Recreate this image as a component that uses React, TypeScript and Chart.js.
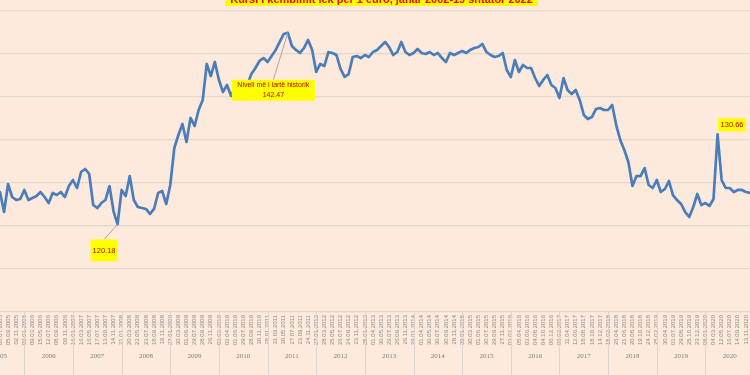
import React, { useEffect, useRef } from "react";
import { Chart, registerables } from "chart.js";

Chart.register(...registerables);

const TITLE = "Kursi i këmbimit lek për 1 euro, janar 2002-19 shtator 2022";
const PEAK_NOTE = "Niveli më i lartë historik";

// Monthly exchange rate (lek per 1 euro), 2005 starts in July
const rate2005 = [123.95, 121.63, 124.88, 123.37, 123.02, 123.14];
const rate2006 = [124.19, 123.02, 123.26, 123.49, 123.95, 123.37, 122.67, 123.84, 123.6, 123.95, 123.37, 124.65];
const rate2007 = [125.35, 124.42, 126.28, 126.63, 126.05, 122.44, 122.09, 122.67, 123.02, 124.65, 121.74, 120.18];
const rate2008 = [124.19, 123.49, 125.81, 123.02, 122.21, 122.09, 121.98, 121.4, 121.98, 123.84, 124.07, 122.56];
const rate2009 = [124.77, 129.07, 130.58, 131.86, 129.77, 132.56, 131.63, 133.49, 134.65, 138.84, 137.44, 139.07];
const rate2010 = [136.98, 135.58, 136.4, 135.12, 136.05, 135.35, 134.77, 136.4, 137.67, 138.37, 139.19, 139.53];
const rate2011 = [139.07, 139.77, 140.47, 141.4, 142.33, 142.47, 140.93, 140.47, 140.12, 140.7, 141.63, 140.47];
const rate2012 = [137.91, 138.84, 138.6, 140.23, 140.12, 139.88, 138.26, 137.33, 137.67, 139.65, 139.77, 139.53];
const rate2013 = [139.88, 139.65, 140.23, 140.47, 140.93, 141.4, 140.81, 139.88, 140.23, 141.4, 140.23, 139.88];
const rate2014 = [140.12, 140.58, 140.12, 140.0, 140.23, 139.88, 140.12, 139.53, 139.07, 140.12, 139.88, 140.12];
const rate2015 = [140.35, 140.12, 140.47, 140.7, 140.81, 141.16, 140.23, 139.88, 139.65, 139.77, 140.12, 138.14];
const rate2016 = [137.33, 139.3, 137.91, 138.72, 138.37, 138.37, 137.21, 136.28, 136.98, 137.56, 136.4, 136.05];
const rate2017 = [134.88, 137.21, 135.81, 135.35, 135.81, 134.65, 132.91, 132.44, 132.67, 133.6, 133.72, 133.49];
const rate2018 = [133.49, 134.07, 131.74, 130.0, 128.84, 127.44, 124.65, 125.81, 125.81, 126.74, 124.77, 124.42];
const rate2019 = [125.35, 123.95, 124.3, 125.23, 123.6, 123.02, 122.56, 121.63, 121.05, 122.21, 123.72, 122.44];
const rate2020 = [122.67, 122.33, 123.14, 130.66, 125.35, 124.42, 124.42, 123.95, 124.19, 124.19, 123.95, 123.84];

// Date tick labels (every second month)
const ticks2005 = ["06.07.2005", "05.09.2005", "02.11.2005"];
const ticks2006 = ["09.01.2006", "09.03.2006", "15.05.2006", "12.07.2006", "08.09.2006", "09.11.2006"];
const ticks2007 = ["16.01.2007", "16.03.2007", "16.05.2007", "17.07.2007", "13.09.2007", "14.11.2007"];
const ticks2008 = ["21.01.2008", "20.03.2008", "23.05.2008", "23.07.2008", "18.09.2008", "19.11.2008"];
const ticks2009 = ["27.01.2009", "30.03.2009", "01.06.2009", "29.07.2009", "28.09.2009", "26.11.2009"];
const ticks2010 = ["03.02.2010", "02.04.2010", "01.06.2010", "29.07.2010", "28.09.2010", "30.11.2010"];
const ticks2011 = ["28.01.2011", "31.03.2011", "30.05.2011", "27.07.2011", "23.09.2011", "24.11.2011"];
const ticks2012 = ["27.01.2012", "28.03.2012", "25.05.2012", "26.07.2012", "24.09.2012", "23.11.2012"];
const ticks2013 = ["25.01.2013", "01.04.2013", "30.05.2013", "29.07.2013", "26.09.2013", "26.11.2013"];
const ticks2014 = ["29.01.2014", "01.04.2014", "30.05.2014", "30.07.2014", "30.09.2014", "28.11.2014"];
const ticks2015 = ["30.01.2015", "30.03.2015", "01.06.2015", "30.07.2015", "29.09.2015", "27.11.2015"];
const ticks2016 = ["03.02.2016", "05.04.2016", "03.06.2016", "04.08.2016", "04.10.2016", "06.12.2016"];
const ticks2017 = ["09.02.2017", "11.04.2017", "12.06.2017", "18.08.2017", "18.10.2017", "14.12.2017"];
const ticks2018 = ["15.02.2018", "26.04.2018", "21.06.2018", "20.08.2018", "19.10.2018", "24.12.2018"];
const ticks2019 = ["25.02.2019", "30.04.2019", "01.07.2019", "29.08.2019", "25.10.2019", "23.12.2019"];
const ticks2020 = ["08.01.2020", "04.03.2020", "12.05.2020", "16.07.2020", "14.09.2020", "13.11.2020"];

const years = [2005, 2006, 2007, 2008, 2009, 2010, 2011, 2012, 2013, 2014, 2015, 2016, 2017, 2018, 2019, 2020];
const ratesByYear = [rate2005, rate2006, rate2007, rate2008, rate2009, rate2010, rate2011, rate2012, rate2013, rate2014, rate2015, rate2016, rate2017, rate2018, rate2019, rate2020];
const ticksByYear = [ticks2005, ticks2006, ticks2007, ticks2008, ticks2009, ticks2010, ticks2011, ticks2012, ticks2013, ticks2014, ticks2015, ticks2016, ticks2017, ticks2018, ticks2019, ticks2020];

const Y_MIN = 110;
const Y_MAX = 145;
const Y_STEP = 5;

const BG = "#FDEADD";
const GRID = "#E2D8D0";
const LINE = "#4A7EBB";
const SEP = "#DDD4CD";

const rates: number[] = ratesByYear.flat();
const tickLabels: string[] = ticksByYear.flat();
const categories: string[] = [];
years.forEach((yr, k) => {
  const startMonth = 13 - ratesByYear[k].length;
  ratesByYear[k].forEach((_, j) => {
    categories.push(String(startMonth + j).padStart(2, "0") + "." + yr);
  });
});
const firstMonthOffset = 12 - rate2005.length; // months of 2005 before the first point

const minIdx = rates.indexOf(Math.min(...rates));
const maxIdx = rates.indexOf(Math.max(...rates));
const start2020 = rates.length - rate2020.length;
const spike2020Idx = start2020 + rate2020.indexOf(Math.max(...rate2020));

const annotations = [
  { index: minIdx, lines: [rates[minIdx].toFixed(2)], dx: -13.5, dy: 26, w: 27, h: 22, leader: true, size: 7.5 },
  { index: maxIdx, lines: [PEAK_NOTE, rates[maxIdx].toFixed(2)], dx: -14.5, dy: 57.5, w: 83, h: 21, leader: true, size: 7 },
  { index: spike2020Idx, lines: [rates[spike2020Idx].toFixed(2)], dx: 14.5, dy: -9.5, w: 28, h: 13, leader: false, size: 7.5 },
];

const bgPlugin = {
  id: "bgFill",
  beforeDraw(chart: any) {
    const ctx = chart.ctx;
    ctx.save();
    ctx.fillStyle = BG;
    ctx.fillRect(0, 0, chart.width, chart.height);
    ctx.restore();
  },
};

const yearAxisPlugin = {
  id: "yearAxis",
  afterDraw(chart: any) {
    const ctx = chart.ctx;
    const x = chart.scales.x;
    const top = chart.chartArea.bottom;
    ctx.save();
    years.forEach((yr, k) => {
      const janIdx = k * 12 - firstMonthOffset;
      const left = x.getPixelForValue(janIdx);
      const right = x.getPixelForValue(janIdx + 12);
      ctx.strokeStyle = SEP;
      ctx.lineWidth = 1;
      ctx.beginPath();
      ctx.moveTo(Math.round(left) + 0.5, top);
      ctx.lineTo(Math.round(left) + 0.5, chart.height);
      ctx.stroke();
      ctx.fillStyle = "#7F7F7F";
      ctx.font = '7px "Liberation Serif"';
      ctx.textAlign = "center";
      ctx.textBaseline = "middle";
      ctx.fillText(String(yr), (left + right) / 2, 356);
    });
    ctx.restore();
  },
};

const titlePlugin = {
  id: "cutTitle",
  afterDraw(chart: any) {
    const ctx = chart.ctx;
    ctx.save();
    ctx.font = 'bold 10px "Liberation Sans"';
    const w10 = ctx.measureText(TITLE).width;
    const size = (10 * 303) / w10;
    ctx.font = `bold ${size}px "Liberation Sans"`;
    const cx = 381.5;
    ctx.fillStyle = "#FFFF00";
    ctx.fillRect(225, -20, 313, 26);
    ctx.fillStyle = "#FF0000";
    ctx.textAlign = "center";
    ctx.textBaseline = "alphabetic";
    ctx.fillText(TITLE, cx, 3);
    ctx.restore();
  },
};

const notePlugin = {
  id: "notes",
  afterDatasetsDraw(chart: any) {
    const ctx = chart.ctx;
    const xs = chart.scales.x;
    const ys = chart.scales.y;
    ctx.save();
    annotations.forEach((a) => {
      const px = xs.getPixelForValue(a.index);
      const py = ys.getPixelForValue(rates[a.index]);
      const cx = px + a.dx;
      const cy = py + a.dy;
      const bx = cx - a.w / 2;
      const by = cy - a.h / 2;
      if (a.leader) {
        ctx.strokeStyle = "#A8A8A8";
        ctx.lineWidth = 1;
        ctx.beginPath();
        ctx.moveTo(cx, by);
        ctx.lineTo(px, py);
        ctx.stroke();
      }
      ctx.fillStyle = "#FFFF00";
      ctx.fillRect(bx, by, a.w, a.h);
      ctx.fillStyle = "#C00000";
      ctx.font = `${a.size}px "Liberation Sans"`;
      ctx.textAlign = "center";
      ctx.textBaseline = "middle";
      const lh = 10;
      const n = a.lines.length;
      a.lines.forEach((t, j) => {
        ctx.fillText(t, cx, cy + (j - (n - 1) / 2) * lh);
      });
    });
    ctx.restore();
  },
};

export default function App() {
  const ref = useRef<HTMLCanvasElement>(null);
  useEffect(() => {
    document.body.style.margin = "0";
    const chart = new Chart(ref.current as HTMLCanvasElement, {
      type: "line",
      data: {
        labels: categories,
        datasets: [
          {
            data: rates,
            borderColor: LINE,
            borderWidth: 2.7,
            pointRadius: 0,
            tension: 0,
            fill: false,
            borderJoinStyle: "round",
            borderCapStyle: "round",
          },
        ],
      },
      options: {
        responsive: false,
        animation: false,
        devicePixelRatio: 1,
        layout: { padding: { top: 11, left: 0, right: 0, bottom: 0 } },
        plugins: { legend: { display: false }, tooltip: { enabled: false }, title: { display: false } },
        scales: {
          x: {
            type: "category",
            offset: false,
            grid: { display: false, drawTicks: false },
            border: { display: false },
            ticks: {
              autoSkip: false,
              minRotation: 90,
              maxRotation: 90,
              padding: 3,
              color: "#8A8A8A",
              font: { size: 6, family: "Liberation Sans" },
              callback: (_v: any, i: number) => (i % 2 === 0 ? tickLabels[i / 2] ?? "" : ""),
            },
            afterFit: (s: any) => {
              s.height = 63;
              s.paddingLeft = 0;
              s.paddingRight = 0;
            },
          },
          y: {
            min: Y_MIN,
            max: Y_MAX,
            ticks: { display: false, stepSize: Y_STEP },
            grid: { color: GRID, lineWidth: 1.3, drawTicks: false },
            border: { display: false },
            afterFit: (s: any) => {
              s.width = 0;
              s.paddingTop = 0;
              s.paddingBottom = 0;
            },
          },
        },
      },
      plugins: [bgPlugin, yearAxisPlugin, titlePlugin, notePlugin],
    } as any);
    return () => chart.destroy();
  }, []);
  return (
    <div style={{ position: "fixed", left: 0, top: 0, width: 750, height: 375 }}>
      <canvas ref={ref} width={750} height={375} style={{ display: "block", width: 750, height: 375 }} />
    </div>
  );
}
